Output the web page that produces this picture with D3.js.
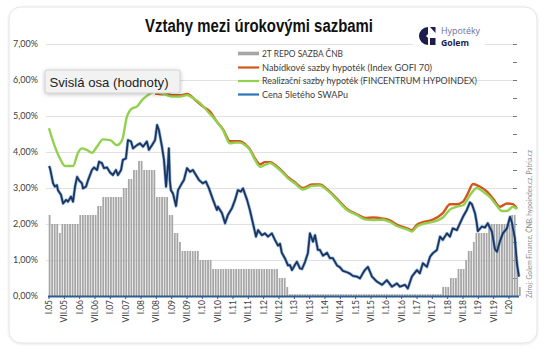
<!DOCTYPE html>
<html><head><meta charset="utf-8">
<script src="https://cdn.jsdelivr.net/npm/d3@7"></script>
<style>html,body{margin:0;padding:0;background:#fff;}svg{display:block;}</style>
</head><body>
<script>
// ---------- DATA ----------
const titleText = "Vztahy mezi úrokovými sazbami";
const yTicks = [0,1,2,3,4,5,6,7];
const yTickLabels = ["0,00%","1,00%","2,00%","3,00%","4,00%","5,00%","6,00%","7,00%"];
// x-axis: months since I.2005
const xTickMonths = [0,6,12,18,24,30,36,42,48,54,60,66,72,78,84,90,96,102,108,114,120,126,132,138,144,150,156,162,168,174,180];
const xTickLabels = ["I.05","VII.05","I.06","VII.06","I.07","VII.07","I.08","VII.08","I.09","VII.09","I.10","VII.10","I.11","VII.11","I.12","VII.12","I.13","VII.13","I.14","VII.14","I.15","VII.15","I.16","VII.16","I.17","VII.17","I.18","VII.18","I.19","VII.19","I.20"];
const seriesNames = ["2T REPO SAZBA ČNB","Nabídkové sazby hypoték (Index GOFI 70)","Realizační sazby hypoték (FINCENTRUM HYPOINDEX)","Cena 5letého SWAPu"];

// 2T repo rate, monthly from I.2005 (month 0..183)
const repoValues = [
 2.25,2.0,2.0,2.0,1.75,2.0,2.0,2.0,2.0,2.0,2.0,2.0,
 2.25,2.25,2.25,2.25,2.25,2.25,2.25,2.5,2.5,2.75,2.75,2.75,
 2.75,2.75,2.75,2.75,2.75,3.0,3.0,3.25,3.25,3.5,3.5,3.75,
 3.75,3.5,3.5,3.5,3.5,3.5,2.75,2.75,2.75,2.75,2.75,2.25,
 2.25,1.75,1.75,1.5,1.25,1.25,1.25,1.25,1.25,1.25,1.25,1.0,
 1.0,1.0,1.0,1.0,0.75,0.75,0.75,0.75,0.75,0.75,0.75,0.75,
 0.75,0.75,0.75,0.75,0.75,0.75,0.75,0.75,0.75,0.75,0.75,0.75,
 0.75,0.75,0.75,0.75,0.75,0.75,0.5,0.5,0.5,0.25,0.05,0.05,
 0.05,0.05,0.05,0.05,0.05,0.05,0.05,0.05,0.05,0.05,0.05,0.05,
 0.05,0.05,0.05,0.05,0.05,0.05,0.05,0.05,0.05,0.05,0.05,0.05,
 0.05,0.05,0.05,0.05,0.05,0.05,0.05,0.05,0.05,0.05,0.05,0.05,
 0.05,0.05,0.05,0.05,0.05,0.05,0.05,0.05,0.05,0.05,0.05,0.05,
 0.05,0.05,0.05,0.05,0.05,0.05,0.05,0.05,0.05,0.05,0.25,0.25,
 0.25,0.5,0.5,0.5,0.75,0.75,0.75,1.0,1.25,1.25,1.5,1.75,
 1.75,1.75,1.75,1.75,2.0,2.0,2.0,2.0,2.0,2.0,2.0,2.0,
 2.0,2.25,2.25,1.0,0.25
];

// Index GOFI 70 (offer rates)
const gofiMonths = [41.5,44.2,46.2,48.1,51.3,54,57.9,60.3,63,65.7,68.1,70.8,72.8,74.7,76.7,78.6,80.6,82.6,84.5,86.5,89.2,91.5,93.5,96.2,99.4,102.9,106,108.8,112.7,116.6,120.5,123.6,126.8,130.7,133.4,136.5,140.1,142,144,146.3,150.2,154.1,156.9,159.6,162,163.9,165.9,168.5,171.4,173.7,176.5,179.2,181.5,183.1];
const gofiValues = [5.62,5.6,5.63,5.58,5.58,5.61,5.4,5.26,5.12,4.84,4.63,4.3,4.3,4.3,4.22,4.08,3.82,3.66,3.72,3.72,3.6,3.45,3.3,3.16,3.0,3.1,3.1,2.97,2.7,2.42,2.27,2.17,2.18,2.15,2.1,1.97,1.88,1.83,1.98,2.05,2.12,2.3,2.55,2.55,2.62,2.85,3.11,3.04,2.9,2.71,2.48,2.57,2.55,2.42];

// Fincentrum Hypoindex (realised rates)
const hypoMonths = [0,2.3,4.3,6.3,9.4,11.3,12.9,14.9,16.8,18.8,21.1,23.9,26.6,28.6,30.5,32.5,34.4,36.4,38.7,41.5,44.2,48.1,51.3,54,56.3,59.1,62.2,65.7,68.1,70.8,72.8,74.7,76.7,78.6,80.6,82.6,84.5,86.5,89.2,91.5,93.5,96.2,99.4,102.9,106,108.8,112.7,116.6,120.5,123.6,126.8,130.7,133.4,136.5,140.1,142,144,146.3,150.2,154.1,156.9,159.6,162,164.7,167.5,169.8,172.5,175.3,177.2,179.2,181.5,183.1];
const hypoValues = [4.66,4.15,3.82,3.61,3.61,3.97,4.1,4.05,3.98,4.15,4.35,4.33,4.19,4.33,4.98,5.21,5.26,5.44,5.58,5.68,5.63,5.54,5.54,5.58,5.5,5.36,5.12,4.84,4.61,4.24,4.26,4.26,4.19,4.06,3.78,3.59,3.64,3.69,3.57,3.42,3.27,3.13,2.96,3.06,3.07,2.94,2.67,2.39,2.25,2.13,2.11,2.12,2.06,1.93,1.85,1.79,1.93,2.0,2.06,2.18,2.4,2.48,2.52,2.8,3.0,2.9,2.75,2.5,2.36,2.36,2.48,2.42];

// 5-year swap
const swapMonths = [0,0.4,1.2,1.6,2.3,3.1,3.5,4.7,5.5,6.7,7.4,8.6,9.4,10.2,11.0,11.7,12.9,13.3,14.5,15.3,16.8,17.6,18.8,19.6,20.7,21.5,22.7,23.9,25.0,26.2,27.0,28.2,28.9,30.1,30.9,32.1,32.9,34.4,35.6,36.8,38.3,39.1,40.3,41.5,42.3,43.0,44.2,45.0,45.8,46.6,46.9,47.3,47.7,48.5,49.7,50.5,52.0,52.8,54.0,55.2,56.3,57.5,58.7,60.2,61.4,62.6,64.2,65.7,66.1,67.7,68.9,70.0,71.6,72.8,73.9,75.1,75.9,77.5,78.6,79.8,81.0,81.8,83.3,84.5,85.7,87.2,88.4,89.6,90.4,91.1,92.3,93.5,94.3,95.1,96.2,97.0,98.2,99.0,100.2,101.3,102.1,103.3,104.1,105.2,106.0,107.2,108.8,109.9,111.1,112.7,113.8,115.0,116.6,117.8,118.9,120.5,121.7,122.8,123.6,124.8,126.4,128.3,130.3,132.2,134.2,136.1,137.3,139.3,140.4,142.0,144.0,145.1,146.3,147.9,149.1,150.2,151.8,153.0,154.1,155.7,156.9,158.0,159.6,160.8,162.0,163.5,164.7,165.5,166.7,167.4,167.8,169.4,170.6,171.7,173.3,174.5,175.3,176.4,177.6,179.2,180.4,181.1,181.5,182.3,183.1,183.9];
const swapValues = [3.61,3.55,3.27,3.13,3.04,3.08,2.94,2.81,2.57,2.67,2.62,2.76,2.62,3.04,3.31,3.22,3.13,2.99,3.04,3.22,3.5,3.57,3.5,3.73,3.69,3.55,3.57,3.43,3.36,3.5,3.36,3.5,3.78,3.82,4.33,4.29,4.1,4.19,4.24,4.15,4.29,4.06,4.19,4.33,4.75,4.61,4.15,3.78,3.04,3.69,4.1,3.2,2.94,2.85,2.5,2.94,3.13,3.22,3.55,3.45,3.5,3.36,3.22,3.13,3.18,2.99,2.67,2.39,2.48,2.3,2.02,2.25,2.44,2.67,2.94,2.9,2.99,2.67,2.39,2.02,1.65,1.83,1.69,1.74,1.65,1.74,1.56,1.4,1.45,1.2,1.05,0.85,0.86,0.72,0.86,0.95,0.77,0.75,0.95,1.19,1.74,1.51,1.69,1.28,1.28,1.12,1.2,1.05,1.05,0.85,0.8,0.7,0.66,0.62,0.56,0.54,0.49,0.63,0.72,0.81,0.54,0.4,0.31,0.44,0.26,0.35,0.26,0.31,0.21,0.54,0.72,0.63,0.91,0.81,1.09,1.19,1.28,1.65,1.56,1.74,1.65,1.88,1.83,2.02,2.2,2.39,2.6,2.55,2.3,2.02,1.8,1.93,1.9,2.02,1.79,1.3,1.23,1.51,1.74,1.88,2.2,2.05,1.9,1.6,0.9,0.54,0.7];

const sourceText = "Zdroj: Golem Finance, ČNB, hypoindex.cz, Patria.cz";
const tooltipText = "Svislá osa (hodnoty)";

// ---------- DRAW ----------
const W = 555, H = 356;
const svg = d3.select("body").append("svg").attr("width", W).attr("height", H);
const defs = svg.append("defs");
const f = defs.append("filter").attr("id","sh").attr("x","-20%").attr("y","-40%").attr("width","140%").attr("height","200%");
f.append("feDropShadow").attr("dx",0).attr("dy",1).attr("stdDeviation",2).attr("flood-color","#000").attr("flood-opacity",0.25);
const f2 = defs.append("filter").attr("id","card").attr("x","-5%").attr("y","-5%").attr("width","110%").attr("height","110%");
f2.append("feDropShadow").attr("dx",0).attr("dy",0.5).attr("stdDeviation",1).attr("flood-color","#000").attr("flood-opacity",0.12);

svg.append("rect").attr("x",9).attr("y",7).attr("width",528).attr("height",336).attr("rx",12)
  .attr("fill","#fff").attr("stroke","#e4e4e4").attr("stroke-width",1).attr("filter","url(#card)");

const x = d3.scaleLinear().domain([0,180]).range([49,509]);
const y = d3.scaleLinear().domain([0,7]).range([296,44]);

// gridlines
svg.append("g").selectAll("line").data(yTicks.filter(d=>d>0)).join("line")
  .attr("x1",46).attr("x2",513).attr("y1",d=>y(d)+0.5).attr("y2",d=>y(d)+0.5)
  .attr("stroke","#e1e1e1").attr("stroke-width",1);

// right minor ticks
svg.append("g").selectAll("line").data(d3.range(1,15).map(i=>i*0.5)).join("line")
  .attr("x1",513).attr("x2",517).attr("y1",d=>y(d)+0.5).attr("y2",d=>y(d)+0.5)
  .attr("stroke","#555").attr("stroke-width",0.8);

// y labels
svg.append("g").selectAll("text").data(yTicks).join("text")
  .attr("x",38).attr("y",d=>y(d)+3.2).attr("text-anchor","end")
  .attr("font-family","Lato, 'Liberation Sans', sans-serif").attr("font-size",9).attr("fill","#404040")
  .text((d,i)=>yTickLabels[i]);

// bars
const barW = (x(1)-x(0))*0.7;
svg.append("g").selectAll("rect").data(repoValues).join("rect")
  .attr("x",(d,i)=>x(i)-0.3).attr("width",barW)
  .attr("y",d=>y(d)).attr("height",d=>y(0)-y(d))
  .attr("fill","#a6a6a6");

// lines
const mk = (ms, vs) => ms.map((m,i)=>[m, vs[i]]);
const line = d3.line().x(d=>x(d[0])).y(d=>y(d[1]));
const smooth = d3.line().x(d=>x(d[0])).y(d=>y(d[1])).curve(d3.curveMonotoneX);

svg.append("path").attr("d", line(mk(swapMonths, swapValues)))
  .attr("fill","none").attr("stroke","#6d9bd1").attr("stroke-width",3.2).attr("stroke-linejoin","round").attr("opacity",0.7);
svg.append("path").attr("d", line(mk(swapMonths, swapValues)))
  .attr("fill","none").attr("stroke","#1b355e").attr("stroke-width",1.8).attr("stroke-linejoin","round");

svg.append("path").attr("d", smooth(mk(gofiMonths, gofiValues)))
  .attr("fill","none").attr("stroke","#d5561c").attr("stroke-width",2.4).attr("stroke-linejoin","round");
svg.append("path").attr("d", smooth(mk(hypoMonths, hypoValues)))
  .attr("fill","none").attr("stroke","#92d050").attr("stroke-width",2.4).attr("stroke-linejoin","round");

// x axis line + ticks
svg.append("line").attr("x1",48).attr("x2",519).attr("y1",y(0)+0.5).attr("y2",y(0)+0.5)
  .attr("stroke","#2f5d8c").attr("stroke-width",2);
svg.append("g").selectAll("line").data(xTickMonths).join("line")
  .attr("x1",d=>x(d)).attr("x2",d=>x(d)).attr("y1",y(0)).attr("y2",y(0)+3)
  .attr("stroke","#2f5d8c").attr("stroke-width",1);
svg.append("g").selectAll("text").data(xTickMonths).join("text")
  .attr("transform",d=>`translate(${x(d)+3},300) rotate(-90)`).attr("text-anchor","end")
  .attr("font-family","Lato, 'Liberation Sans', sans-serif").attr("font-size",8.5).attr("fill","#404040")
  .text((d,i)=>xTickLabels[i]);

// source
svg.append("text").attr("transform","translate(531.5,298) rotate(-90)")
  .attr("font-family","Lato, 'Liberation Sans', sans-serif").attr("font-size",7).attr("fill","#8a8a8a")
  .attr("textLength",148).attr("lengthAdjust","spacingAndGlyphs")
  .text(sourceText);

// title
svg.append("text").attr("x",145).attr("y",31.5)
  .attr("font-family","'Liberation Sans', Arial, sans-serif").attr("font-weight","bold").attr("font-size",17.5).attr("fill","#111")
  .attr("textLength",228).attr("lengthAdjust","spacingAndGlyphs").text(titleText);

// logo
const logo = svg.append("g");
logo.append("rect").attr("x",413).attr("y",22).attr("width",72).attr("height",27).attr("fill","#fff");
logo.append("path").attr("d","M428,27 A9,9 0 0,0 428,45 L428,38 L426,36 L428,34 Z").attr("fill","#1c1f4b");
logo.append("path").attr("d","M430,27 L435.5,27 L435.5,33 Z").attr("fill","#1c1f4b");
logo.append("rect").attr("x",430).attr("y",38).attr("width",5.5).attr("height",7).attr("fill","#1c1f4b");
logo.append("text").attr("x",441).attr("y",34).attr("font-family","'Open Sans', sans-serif").attr("font-size",8.8)
  .attr("fill","#6e6e9c").attr("textLength",39).attr("lengthAdjust","spacingAndGlyphs").text("Hypotéky");
logo.append("text").attr("x",441).attr("y",46).attr("font-family","'Open Sans', sans-serif").attr("font-weight","bold").attr("font-size",8.8)
  .attr("fill","#1c1f4b").attr("textLength",28).attr("lengthAdjust","spacingAndGlyphs").text("Golem");

// legend
const legY = [53.5, 67.5, 81, 94.5];
const legW = [81,170,215,86];
const legColors = ["#a6a6a6","#d5561c","#92d050","#2e75b6"];
const lg = svg.append("g");
seriesNames.forEach((n,i)=>{
  lg.append("rect").attr("x",238).attr("y",legY[i]-(i===0?1.8:1.1)).attr("width",21).attr("height",i===0?3.6:2.2).attr("fill",legColors[i]);
  lg.append("text").attr("x",262).attr("y",legY[i]+3.2)
    .attr("font-family","Lato, 'Liberation Sans', sans-serif").attr("font-size",9.2).attr("fill","#404040")
    .attr("textLength",legW[i]).attr("lengthAdjust","spacingAndGlyphs").text(n);
});

// tooltip
const tt = svg.append("g");
tt.append("rect").attr("x",45).attr("y",70).attr("width",135).attr("height",23).attr("rx",2)
  .attr("fill","#f2f2f2").attr("stroke","#c9c9c9").attr("stroke-width",0.8).attr("filter","url(#sh)");
tt.append("text").attr("x",49.5).attr("y",86.5).attr("font-family","'Liberation Sans', Arial, sans-serif").attr("font-size",13)
  .attr("fill","#222").attr("textLength",119).attr("lengthAdjust","spacingAndGlyphs").text(tooltipText);
</script>
</body></html>
